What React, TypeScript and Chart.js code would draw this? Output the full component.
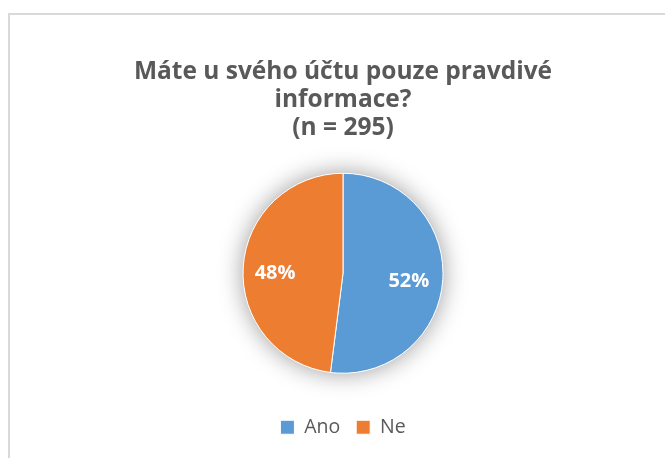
import React, { useEffect, useRef } from "react";
import { Chart, registerables } from "chart.js";

Chart.register(...registerables);

const categories = ["Ano", "Ne"];
const values = [52, 48];
const colors = ["#5B9BD5", "#ED7D31"];
const titleLines = ["Máte u svého účtu pouze pravdivé", "informace?", "(n = 295)"];

const FONT = "'Open Sans', 'Noto Sans', sans-serif";

const framePlugin = {
  id: "frame",
  beforeDraw(chart: any) {
    const ctx = chart.ctx;
    ctx.save();
    ctx.fillStyle = "#ffffff";
    ctx.fillRect(0, 0, chart.width, chart.height);
    ctx.strokeStyle = "#d9d9d9";
    ctx.lineWidth = 2;
    ctx.strokeRect(9, 14, chart.width + 20, chart.height + 20);
    ctx.restore();
  },
};

const shadowPlugin = {
  id: "pieShadow",
  beforeDatasetsDraw(chart: any) {
    const meta = chart.getDatasetMeta(0);
    const arc = meta.data[0];
    if (!arc) return;
    const { x, y, outerRadius } = arc.getProps(["x", "y", "outerRadius"], true);
    const ctx = chart.ctx;
    ctx.save();
    ctx.shadowColor = "rgba(0,0,0,0.4)";
    ctx.shadowBlur = 24;
    ctx.beginPath();
    ctx.arc(x, y, outerRadius, 0, Math.PI * 2);
    ctx.fillStyle = "#ffffff";
    ctx.fill();
    ctx.restore();
  },
};

const labelPlugin = {
  id: "pieLabels",
  afterDatasetsDraw(chart: any) {
    const meta = chart.getDatasetMeta(0);
    const ctx = chart.ctx;
    const total = values.reduce((a, b) => a + b, 0);
    ctx.save();
    ctx.fillStyle = "#ffffff";
    ctx.font = `bold 20px ${FONT}`;
    ctx.textAlign = "center";
    ctx.textBaseline = "middle";
    meta.data.forEach((arc: any, i: number) => {
      const { x, y, startAngle, endAngle, outerRadius } = arc.getProps(
        ["x", "y", "startAngle", "endAngle", "outerRadius"],
        true
      );
      const mid = (startAngle + endAngle) / 2;
      const r = outerRadius * 0.67;
      const pct = Math.round((values[i] / total) * 100) + "%";
      ctx.fillText(pct, x + Math.cos(mid) * r - 1, y + Math.sin(mid) * r + 4);
    });
    ctx.restore();
  },
};

export default function App() {
  const ref = useRef<HTMLCanvasElement | null>(null);
  useEffect(() => {
    if (!ref.current) return;
    const chart = new Chart(ref.current, {
      type: "pie",
      data: {
        labels: categories,
        datasets: [
          {
            data: values,
            backgroundColor: colors,
            borderColor: "#ffffff",
            borderWidth: 1,
            radius: 100,
          } as any,
        ],
      },
      options: {
        responsive: false,
        animation: false,
        layout: { padding: { left: 21, right: 0, top: 0, bottom: 11 } },
        plugins: {
          title: {
            display: true,
            text: titleLines,
            color: "#595959",
            font: { family: FONT, size: 24.5, weight: "bold", lineHeight: 28 / 24.5 },
            padding: { top: 58, bottom: 3 },
          },
          legend: {
            position: "bottom",
            labels: {
              color: "#595959",
              font: { family: FONT, size: 19.5 },
              boxWidth: 14,
              boxHeight: 14,
              padding: 16,
            },
          },
          tooltip: { enabled: false },
        },
      },
      plugins: [framePlugin, shadowPlugin, labelPlugin],
    });
    return () => chart.destroy();
  }, []);
  return (
    <div style={{ position: "fixed", left: 0, top: 0, width: 665, height: 458 }}>
      <canvas ref={ref} width={665} height={458} />
    </div>
  );
}
